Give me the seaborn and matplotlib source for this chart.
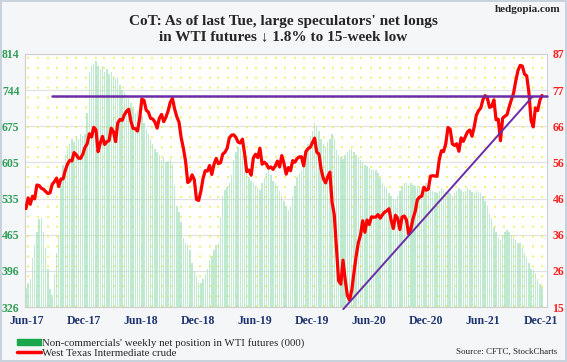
import pandas as pd
import numpy as np
import seaborn as sns
import matplotlib.pyplot as plt
from matplotlib.patches import Patch
from matplotlib.lines import Line2D

# weekly data, Jun-2017 .. Dec-2021
net_longs = [
    # 2017
    362, 372, 380, 420, 445, 470, 495, 498, 470, 440, 400, 360, 350, 390,
    430, 462, 560, 600, 620, 630, 640, 650, 645, 655, 650, 660, 655, 660,
    # 2018
    700, 780, 790, 795, 800, 790, 785, 790, 780, 785, 775, 780, 770, 765,
    770, 755, 745, 740, 735, 730, 720, 710, 700, 705, 690, 695, 680, 670,
    660, 650, 640, 630, 625, 620, 610, 615, 605, 608, 612, 600, 560, 520,
    510, 490, 460, 450, 445, 436, 410, 395, 385, 375,
    # 2019
    372, 380, 390, 400, 417, 425, 435, 445, 449, 500, 540, 552, 558, 565,
    580, 610, 625, 635, 630, 620, 610, 590, 577, 570, 565, 560, 555, 552,
    565, 575, 585, 590, 580, 570, 565, 560, 550, 540, 530, 520, 513, 520,
    540, 560, 577, 585, 590, 600, 620, 640, 655, 665,
    # 2020
    680, 675, 665, 650, 640, 635, 645, 650, 660, 650, 629, 620, 615, 612,
    620, 625, 629, 630, 625, 620, 615, 610, 605, 600, 598, 595, 592, 590,
    590, 585, 575, 565, 560, 555, 545, 540, 535, 532, 540, 550, 560, 565,
    565, 562, 565, 562, 560, 560, 558, 557, 560, 565, 560,
    # 2021
    555, 550, 548, 545, 550, 555, 552, 548, 550, 545, 540, 545, 550, 555,
    552, 548, 550, 555, 552, 548, 545, 550, 548, 545, 540, 530, 520, 505,
    495, 480, 470, 460, 455, 465, 470, 475, 470, 465, 460, 455, 450, 449,
    440, 430, 420, 410, 400, 397, 392, 380, 370, 364,
]

wti = [
    # 2017
    43.01, 46.04, 44.23, 46.54, 45.77, 49.71, 49.58, 48.82, 48.51, 47.87,
    47.29, 47.48, 49.89, 50.66, 51.67, 49.29, 51.45, 51.47, 53.90, 55.64,
    56.74, 56.55, 58.95, 58.36, 57.36, 57.30, 58.47, 60.42,
    # 2018
    61.44, 64.30, 63.37, 66.14, 65.45, 59.20, 61.68, 63.55, 61.25, 62.04,
    62.34, 65.88, 64.94, 62.06, 67.39, 68.38, 68.10, 69.72, 70.70, 71.28,
    67.88, 65.81, 65.74, 65.06, 68.58, 74.15, 73.80, 71.01, 70.46, 68.69,
    68.49, 67.63, 65.91, 68.72, 69.80, 67.75, 68.99, 70.78, 73.25, 74.34,
    71.34, 69.12, 67.59, 63.14, 60.19, 56.46, 50.42, 50.93, 52.61, 51.20,
    45.59, 45.33,
    # 2019
    47.96, 51.59, 53.80, 53.69, 55.26, 52.72, 55.59, 57.26, 55.80, 56.07,
    58.52, 59.04, 60.14, 63.08, 63.89, 64.00, 63.30, 61.94, 61.66, 62.76,
    58.63, 53.50, 53.99, 52.51, 57.43, 58.47, 57.51, 60.21, 55.63, 56.20,
    55.66, 54.50, 54.87, 54.17, 55.10, 56.52, 54.85, 58.09, 55.91, 52.81,
    54.70, 53.78, 56.66, 56.20, 57.24, 57.72, 57.77, 55.17, 59.20, 60.07,
    60.44, 61.72,
    # 2020
    63.05, 59.04, 58.54, 54.19, 51.56, 50.32, 52.05, 53.38, 44.76, 41.28,
    31.73, 22.43, 21.51, 28.34, 22.76, 18.27, 16.94, 19.78, 24.74, 29.43,
    33.25, 35.49, 39.55, 36.26, 39.75, 38.49, 40.65, 40.55, 40.59, 41.29,
    40.27, 41.22, 42.01, 42.34, 42.97, 39.77, 37.33, 41.11, 40.25, 37.05,
    40.60, 40.88, 39.85, 35.79, 37.14, 40.13, 42.15, 45.53, 46.26, 46.57,
    49.10, 48.23, 48.52,
    # 2021
    52.24, 52.36, 52.27, 52.20, 56.85, 59.47, 59.24, 61.50, 66.09, 65.61,
    61.42, 60.97, 61.45, 59.32, 63.13, 62.14, 63.58, 64.90, 65.37, 63.58,
    66.32, 69.62, 70.91, 71.64, 74.05, 75.16, 74.56, 71.81, 72.07, 73.95,
    68.28, 68.44, 62.32, 68.74, 69.29, 69.72, 71.97, 73.98, 75.88, 79.35,
    82.28, 83.76, 83.57, 81.27, 80.79, 76.10, 68.15, 66.26, 71.67, 70.86,
    73.79, 75.21,
]

left_ticks = ['326', '396', '465', '535', '605', '675', '744', '814']
right_ticks = ['15', '26', '36', '46', '56', '66', '77', '87']
x_labels = ['Jun-17', 'Dec-17', 'Jun-18', 'Dec-18', 'Jun-19',
            'Dec-19', 'Jun-20', 'Dec-20', 'Jun-21', 'Dec-21']

# support / trend lines drawn by the author (price scale)
resistance = 75.0
trend_start = ('2020-04-04', 14.4)
trend_end = ('2021-11-30', 74.8)

cot = pd.DataFrame({'date': pd.date_range(end='2021-12-31', periods=len(net_longs), freq='7D'),
                    'net': net_longs})
px = pd.DataFrame({'date': pd.date_range(end='2021-12-31', periods=len(wti), freq='7D'),
                   'wti': wti})

sns.set_style('white')
plt.rcParams['font.family'] = ['Liberation Serif', 'DejaVu Serif']

fig = plt.figure(figsize=(5.67, 3.62), dpi=100, facecolor='#f4f6f8')
fig.patch.set_edgecolor('#c8d2dc')
fig.patch.set_linewidth(1.5)
ax = fig.add_axes([25/567, 1-307/362, 522/567, 253/362])
ax.set_facecolor('white')

lo, hi = 326, 814
ax.set_ylim(lo, hi)
ax.set_xlim(pd.Timestamp('2017-06-20'), pd.Timestamp('2022-01-16'))

# horizontal grid and dotted monthly grid
for v in np.linspace(lo, hi, 8):
    ax.axhline(v, color='#e2e2e2', lw=0.9, zorder=0)
for d in pd.date_range('2017-07-01', '2022-01-01', freq='MS'):
    ax.axvline(d, color='#f2ee55', lw=1.3, ls=(0, (1, 4.5)), zorder=0)

ax.bar(cot['date'], cot['net'] - lo, bottom=lo, width=4.5, color='#a6e0bf',
       alpha=0.7, linewidth=0, zorder=1)

ax.set_yticks(np.linspace(lo, hi, 8))
ax.set_yticklabels(left_ticks, color='#2f9e58', fontsize=8.5, fontweight='bold')
ax.set_xticks([pd.Timestamp(f'20{l[-2:]}-{"06" if l[:3] == "Jun" else "12"}-26') for l in x_labels])
ax.set_xticklabels(x_labels, color='#1f3470', fontsize=8.5, fontweight='bold')
ax.tick_params(axis='y', length=0, pad=4)
ax.tick_params(axis='x', length=0, pad=6)
for s in ax.spines.values():
    s.set_color('#d0d0d0')
    s.set_linewidth(0.8)

ax2 = ax.twinx()
ax2.set_ylim(15, 87)
sns.lineplot(data=px, x='date', y='wti', ax=ax2, color='#ff0000', lw=2.3, zorder=3)
ax2.plot([pd.Timestamp('2017-09-14'), pd.Timestamp('2022-01-16')], [resistance] * 2,
         color='#6a2ca8', lw=1.8, zorder=4, clip_on=False)
ax2.plot([pd.Timestamp(trend_start[0]), pd.Timestamp(trend_end[0])],
         [trend_start[1], trend_end[1]], color='#6a2ca8', lw=1.4, zorder=4, clip_on=False)
ax2.set_yticks(np.linspace(15, 87, 8))
ax2.set_yticklabels(right_ticks, color='#ff2020', fontsize=8.5, fontweight='bold')
ax2.set_ylabel('')
ax2.set_xlabel('')
ax2.tick_params(length=0, pad=4)
for s in ax2.spines.values():
    s.set_visible(False)

fig.text(0.5, 0.958, "CoT: As of last Tue, large speculators' net longs\nin WTI futures \u2193 1.8% to 15-week low",
         ha='center', va='top', fontsize=11, fontweight='bold', linespacing=1.2)
fig.text(0.988, 0.985, 'hedgopia.com', ha='right', va='top', fontsize=8, fontweight='bold')

handles = [Patch(color='#1aa64a'), Line2D([0], [0], color='#ff0000', lw=2.5)]
fig.legend(handles, ["Non-commercials' weekly net position in WTI futures (000)",
                     'West Texas Intermediate crude'],
           loc='lower left', bbox_to_anchor=(0.015, -0.012), frameon=False, fontsize=7.8,
           handlelength=2.2, handleheight=0.5, labelspacing=0.05, handletextpad=0.1,
           borderpad=0.3)
fig.text(0.982, 0.018, 'Source: CFTC, StockCharts', ha='right', va='bottom', fontsize=6.5)

fig.savefig('out.png', dpi=100, facecolor=fig.get_facecolor(), edgecolor=fig.patch.get_edgecolor())
